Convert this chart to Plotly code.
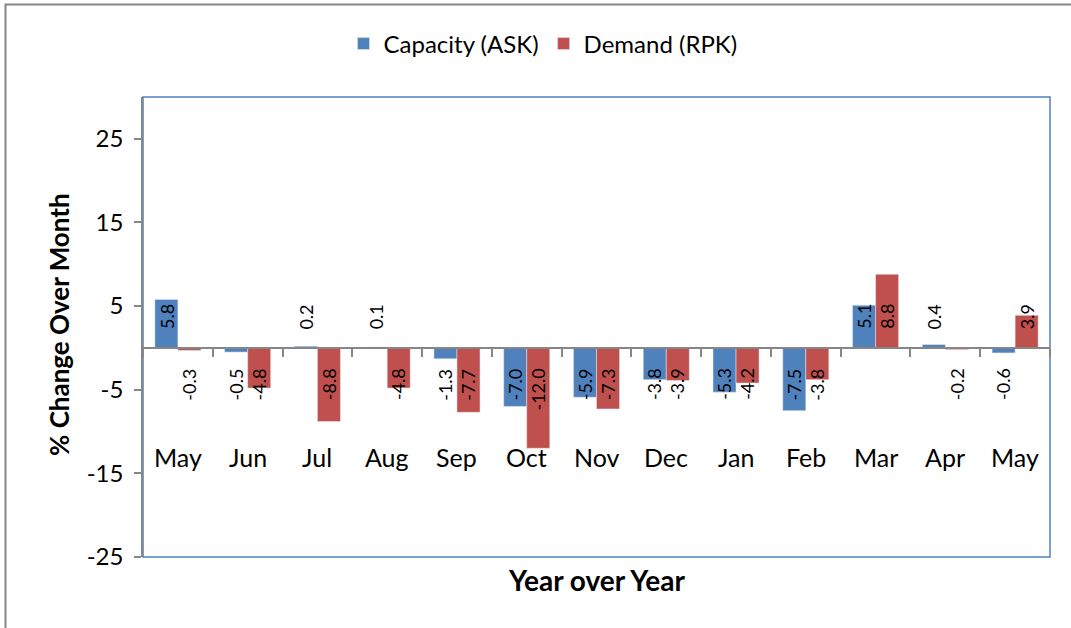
import plotly.graph_objects as go

months = ["May", "Jun", "Jul", "Aug", "Sep", "Oct", "Nov", "Dec", "Jan", "Feb", "Mar", "Apr", "May"]
capacity = [5.8, -0.5, 0.2, 0.1, -1.3, -7.0, -5.9, -3.8, -5.3, -7.5, 5.1, 0.4, -0.6]
demand = [-0.3, -4.8, -8.8, -4.8, -7.7, -12.0, -7.3, -3.9, -4.2, -3.8, 8.8, -0.2, 3.9]
y_ticks = [-25, -15, -5, 5, 15, 25]
y_ticktext = ["-25", "-15", "-5", "5", "15", "25"]

BLUE = "#4F81BD"
RED = "#C0504D"
GREY = "#868686"
FONT = "Lato"

W, H = 1071, 628
ML, MR, MT, MB = 143, 21, 97, 71
PW, PH = W - ML - MR, H - MT - MB
YMIN, YMAX = -25, 30
BARGAP = 0.34
BAR_W = (1 - BARGAP) / 2

idx = list(range(len(months)))

fig = go.Figure()
fig.add_trace(go.Bar(x=idx, y=capacity, name="Capacity (ASK)", marker=dict(color=BLUE)))
fig.add_trace(go.Bar(x=idx, y=demand, name="Demand (RPK)", marker=dict(color=RED)))

ann = []
for k, series in enumerate([capacity, demand]):
    for i, v in enumerate(series):
        pos = v >= 0
        ann.append(dict(
            x=i + (k - 0.5) * BAR_W, y=2.0 if pos else -2.2, xref="x", yref="y",
            text=f"{v:.1f}", showarrow=False, textangle=-90,
            xanchor="center", yanchor="bottom" if pos else "top",
            font=dict(family=FONT, size=18, color="black"),
        ))
for i, m in enumerate(months):
    ann.append(dict(x=i, y=-13, xref="x", yref="y", text=m, showarrow=False,
                    xanchor="center", yanchor="middle",
                    font=dict(family=FONT, size=25, color="black")))

def px_x(p):
    return (p - ML) / PW

def px_y(p):
    return (H - MB - p) / PH

ann.append(dict(x=px_x(59), y=px_y(325), xref="paper", yref="paper",
                xanchor="center", yanchor="middle",
                text="<b>% Change Over Month</b>", showarrow=False, textangle=-90,
                font=dict(family=FONT, size=26, color="black")))
ann.append(dict(x=px_x(596), y=px_y(580), xref="paper", yref="paper",
                xanchor="center", yanchor="middle",
                text="<b>Year over Year</b>", showarrow=False,
                font=dict(family=FONT, size=28, color="black")))

shapes = [
    dict(type="rect", xref="paper", yref="paper", x0=0, x1=1, y0=0, y1=1,
         line=dict(color=BLUE, width=1.5), layer="below"),
    dict(type="rect", xref="paper", yref="paper", x0=px_x(5.5), x1=px_x(1080),
         y0=px_y(640), y1=px_y(4.5), line=dict(color=GREY, width=2), layer="below"),
]

fig.update_layout(
    width=W, height=H,
    margin=dict(l=ML, r=MR, t=MT, b=MB),
    paper_bgcolor="white", plot_bgcolor="white",
    barmode="group", bargap=BARGAP, bargroupgap=0,
    font=dict(family=FONT, color="black"),
    showlegend=True,
    legend=dict(orientation="h", x=px_x(543), xanchor="center", y=px_y(44), yanchor="middle",
                font=dict(family=FONT, size=24, color="black"), bgcolor="rgba(0,0,0,0)",
                itemwidth=30),
    annotations=ann,
    shapes=shapes,
    xaxis=dict(range=[-0.5, len(months) - 0.5], anchor="free",
               position=(0 - YMIN) / (YMAX - YMIN),
               showline=True, linecolor=GREY, linewidth=2,
               tickmode="array", tickvals=[i - 0.5 for i in range(len(months) + 1)],
               ticks="outside", ticklen=8, tickcolor=GREY, tickwidth=1.5,
               showticklabels=False, showgrid=False, zeroline=False, fixedrange=True),
    yaxis=dict(range=[YMIN, YMAX], tickmode="array", tickvals=y_ticks, ticktext=y_ticktext,
               showline=True, linecolor=GREY, linewidth=1.5,
               ticks="outside", ticklen=7, tickcolor=GREY, tickwidth=1.5,
               ticklabelstandoff=6,
               tickfont=dict(family=FONT, size=24, color="black"),
               showgrid=False, zeroline=False, fixedrange=True),
)

fig.write_html("out.html", config={"displayModeBar": False},
               post_script="document.body.style.margin='0';")
